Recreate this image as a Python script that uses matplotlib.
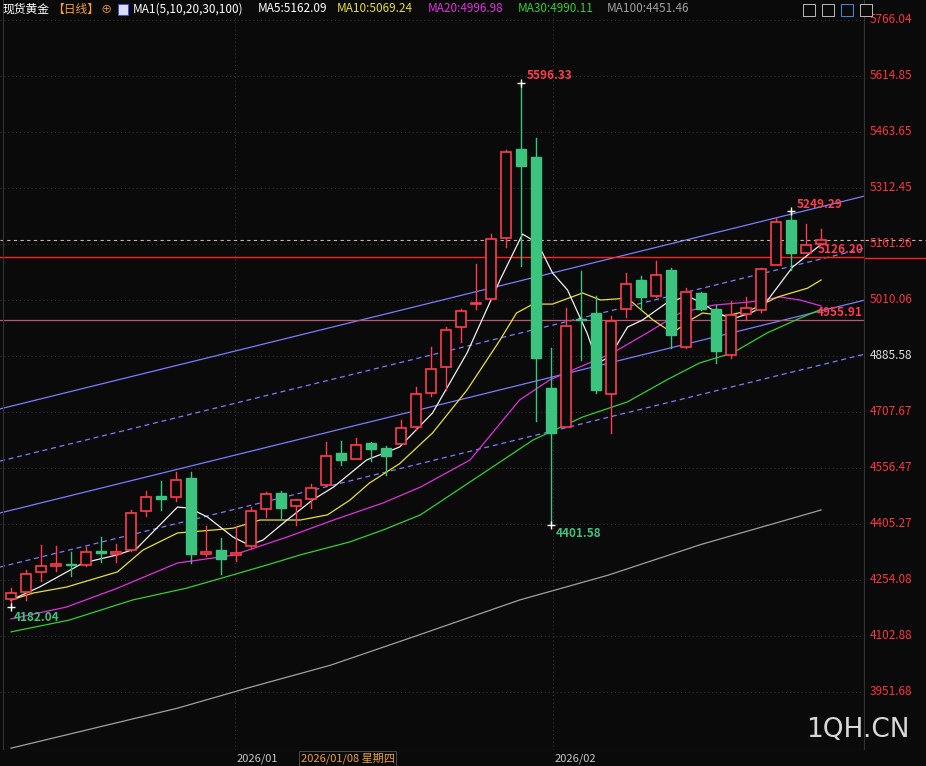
import matplotlib
matplotlib.use("Agg")
import matplotlib.pyplot as plt
from matplotlib.patches import Rectangle

plt.rcParams['font.family'] = ['Noto Sans CJK SC', 'DejaVu Sans']

# daily OHLC
opens = [4202, 4221, 4275, 4293, 4297, 4295, 4332, 4325, 4335, 4440,
         4481, 4477, 4529, 4325, 4335, 4322, 4346, 4445, 4489, 4455,
         4474, 4511, 4597, 4581, 4624, 4610, 4620, 4668, 4758, 4828,
         4936, 4999, 5012, 5177, 5418, 5396, 4772, 4668, 4959, 4976,
         4755, 4985, 5064, 5022, 5091, 4884, 5028, 4987, 4861, 4971,
         4983, 5104, 5226, 5138, 5161]
closes = [4218, 4269, 4291, 4296, 4295, 4329, 4326, 4329, 4434, 4477,
          4474, 4524, 4325, 4329, 4312, 4327, 4440, 4486, 4448, 4469,
          4502, 4589, 4579, 4618, 4608, 4590, 4664, 4756, 4824, 4929,
          4980, 5003, 5174, 5409, 5373, 4854, 4650, 4940, 4957, 4767,
          4954, 5053, 5019, 5078, 4916, 5032, 4987, 4873, 4969, 4988,
          5093, 5220, 5138, 5159, 5171]
highs = [4232, 4281, 4348, 4346, 4329, 4342, 4369, 4350, 4443, 4494,
         4521, 4546, 4546, 4400, 4368, 4396, 4452, 4492, 4495, 4473,
         4513, 4627, 4629, 4637, 4627, 4616, 4686, 4776, 4884, 4937,
         4987, 5107, 5188, 5415, 5596.33, 5447, 4881, 4988, 5088, 5021,
         4967, 5084, 5075, 5115, 5096, 5042, 5032, 4996, 5008, 5017,
         5097, 5231, 5249.29, 5215, 5202]
lows = [4182.04, 4200, 4252, 4279, 4266, 4293, 4303, 4303, 4332, 4427,
        4443, 4467, 4299, 4320, 4270, 4306, 4341, 4425, 4419, 4403,
        4448, 4509, 4565, 4581, 4576, 4537, 4620, 4659, 4751, 4767,
        4897, 4987, 5010, 5154, 5103, 4682, 4401.58, 4668, 4848, 4758,
        4652, 4963, 4983, 5017, 4880, 4880, 4983, 4839, 4853, 4956,
        4978, 5104, 5091, 5136, 5161]

# moving averages: (bar index, value)
ma5 = [(0, 4200), (1.9, 4235), (4.8, 4300), (7.1, 4322), (8.4, 4340), (11.1, 4451),
       (11.9, 4448), (13.1, 4424), (14.8, 4370), (15.9, 4348), (16.8, 4362),
       (18.4, 4416), (20.1, 4470), (21.5, 4505), (23.7, 4578), (25.9, 4613),
       (28.1, 4705), (30.4, 4867), (32.6, 5064), (34.1, 5188), (35.1, 5164),
       (36.1, 5083), (37.1, 5037), (38.4, 4921), (39.1, 4840), (39.9, 4856),
       (41.1, 4937), (42.1, 4956), (43.7, 5002), (45.1, 5021), (45.9, 5005),
       (47.1, 4975), (48.1, 4959), (49.3, 4975), (50.1, 4991), (51.1, 5045),
       (52.1, 5099), (54, 5160)]
ma10 = [(0, 4200), (1.5, 4219), (3.7, 4235), (7.1, 4276), (8.8, 4335), (11.1, 4381),
        (13.5, 4389), (14.8, 4394), (16.6, 4416), (19.3, 4416), (21.1, 4430),
        (22.6, 4470), (23.9, 4516), (25.9, 4568), (28.1, 4651), (30.4, 4767),
        (32.6, 4902), (33.7, 4975), (34.8, 4999), (36.1, 4999), (38.1, 5029),
        (39.3, 5010), (41.1, 5015), (42.8, 4956), (44.1, 4921), (45.3, 4956),
        (46.1, 4975), (47.7, 4967), (49.3, 4983), (51.1, 5018), (53.1, 5042),
        (54, 5064)]
ma20 = [(0, 4149), (3.7, 4181), (7.1, 4232), (11.1, 4300), (14.8, 4321), (18.4, 4370),
        (21.5, 4416), (24.8, 4462), (27.3, 4505), (30.6, 4578), (33.9, 4740),
        (35.9, 4794), (37.9, 4829), (40.1, 4867), (42.4, 4921), (44.6, 4975),
        (46.8, 4996), (49.3, 5005), (51.3, 5018), (52.6, 5010), (54, 4994)]
ma30 = [(0, 4114), (3.9, 4146), (8.1, 4200), (11.7, 4232), (14.8, 4268), (17.1, 4295),
        (19.3, 4322), (22.6, 4357), (24.8, 4389), (27.3, 4430), (32.8, 4578),
        (34.8, 4632), (38.1, 4694), (41.1, 4735), (43.7, 4794), (45.9, 4840),
        (48.1, 4867), (50.4, 4921), (52.6, 4961), (54, 4985)]
ma100 = [(0, 3800), (11.1, 3908), (16, 3965), (21.3, 4024), (27, 4103),
         (33.9, 4200), (39.8, 4267), (46, 4350), (54, 4443)]

# channel lines: (start index, start price, end index, end price, style)
channels = [(-0.73, 4716, 56.93, 5291, "-"), (-0.73, 4575, 56.93, 5150, "--"),
            (-0.73, 4435, 56.93, 5010, "-"), (-0.73, 4289, 56.93, 4864, "--")]

yticks = [5766.04, 5614.85, 5463.65, 5312.45, 5161.26, 5010.06, 4858.87,
          4707.67, 4556.47, 4405.27, 4254.08, 4102.88, 3951.68]
ytick_labels = ["5766.04", "5614.85", "5463.65", "5312.45", "5161.26", "5010.06",
                "4885.58", "4707.67", "4556.47", "4405.27", "4254.08", "4102.88",
                "3951.68"]
month_idx = [14.9, 36.1]
month_labels = ["2026/01", "2026/02"]
i_peak, i_trough, i_hi2 = 34, 36, 52

UP = "#ff3b4f"
DOWN = "#3cc47e"
BG = "#0a0a0a"

W, H = 926, 766
fig = plt.figure(figsize=(W / 100, H / 100), dpi=100)
fig.patch.set_facecolor(BG)
ax = fig.add_axes([0, 16 / H, 865 / W, 750 / H])
ax.set_facecolor(BG)
ax.set_xlim(-0.733, 56.93)
ax.set_ylim(5820.04 - 2.7 * 750, 5820.04)
ax.set_xticks([])
ax.set_yticks([])
for s in ax.spines.values():
    s.set_visible(False)
ax.axvline(-0.5, color="#333333", lw=0.8)
ax.axvline(56.93, color="#333333", lw=1.6)
ax.axhline(5820.04 - 2.7 * 750, color="#333333", lw=0.8)

# grid
for t in yticks:
    ax.axhline(t, color="#3a3a3a", lw=0.7, ls=(0, (1, 3)), zorder=0)
for m in month_idx:
    ax.axvline(m, color="#3a3a3a", lw=0.7, ls=(0, (1, 3)), zorder=0)

# channel lines
for x0, y0, x1, y1, ls in channels:
    ax.plot([x0, x1], [y0, y1], color="#7b7bff", lw=0.9, zorder=1,
            ls=(0, (4, 3)) if ls == "--" else "-")

# horizontal levels
ax.axhline(5126.20, color="#ff2020", lw=1.0, zorder=1)
ax.axhline(4955.91, color="#b05a70", lw=0.9, zorder=1)
ax.axhline(5172.8, color="#c9b2a6", lw=0.8, ls=(0, (3, 3)), zorder=1)

# moving averages
for pts, col in [(ma100, "#a0a0a0"), (ma30, "#30d030"), (ma20, "#e030e0"),
                 (ma10, "#e8e030"), (ma5, "#f0f0f0")]:
    ax.plot([p[0] for p in pts], [p[1] for p in pts], color=col, lw=0.9, zorder=3)

# candles
bw = 0.62
for i, (o, c, hi, lo) in enumerate(zip(opens, closes, highs, lows)):
    up = c >= o
    col = UP if up else DOWN
    bot, top = min(o, c), max(o, c)
    ax.plot([i, i], [top, hi], color=col, lw=1.0, zorder=4)
    ax.plot([i, i], [lo, bot], color=col, lw=1.0, zorder=4)
    hgt = max(top - bot, 3)
    if up:
        ax.add_patch(Rectangle((i - bw / 2, bot), bw, hgt, facecolor=BG,
                               edgecolor=col, lw=1.2, zorder=5))
    else:
        ax.add_patch(Rectangle((i - bw / 2, bot), bw, hgt, facecolor=col,
                               edgecolor=col, lw=1.0, zorder=5))

# extreme markers
for i, v in [(i_peak, highs[i_peak]), (i_hi2, highs[i_hi2]),
             (i_trough, lows[i_trough]), (0, lows[0])]:
    ax.plot(i, v, marker="+", color="white", ms=6, mew=1, zorder=6)
lab = dict(fontsize=8.5, fontweight="bold", zorder=7)
ax.text(i_peak + 0.4, highs[i_peak] + 2, f"{highs[i_peak]:.2f}", color=UP, va="bottom", **lab)
ax.text(i_hi2 + 0.4, highs[i_hi2] + 2, f"{highs[i_hi2]:.2f}", color=UP, va="bottom", **lab)
ax.text(i_trough + 0.3, lows[i_trough] - 5, f"{lows[i_trough]:.2f}", color=DOWN, va="top", **lab)
ax.text(0.2, lows[0] - 12, f"{lows[0]:.2f}", color=DOWN, va="top", **lab)
ax.text(56.8, 5126.20 + 3, "5126.20", color=UP, ha="right", va="bottom", **lab)
ax.text(56.8, 4955.91 + 3, "4955.91", color=UP, ha="right", va="bottom", **lab)

# right price axis
tr = ax.get_yaxis_transform()
for t, tl in zip(yticks, ytick_labels):
    ax.text(1.005, t, tl, transform=tr, color="#dddddd" if tl == "4885.58" else "#ff3040",
            fontsize=8.5, va="center", ha="left", clip_on=False)
fig.lines.append(plt.Line2D([865 / W, 1], [(766 - 239.7) / H] * 2, transform=fig.transFigure,
                            color="#c9b2a6", lw=0.8, ls=(0, (3, 3))))
fig.lines.append(plt.Line2D([865 / W, 1], [(766 - 258.3) / H] * 2, transform=fig.transFigure,
                            color="#ff2020", lw=1.0))

# date axis
dy = 7.5 / H
for m, tl in zip(month_idx, month_labels):
    x = ax.transData.transform((m, 0))[0] / W
    fig.text(x + 2 / W, dy, tl, color="#c8c8c8", fontsize=8, va="center", ha="left")
x = ax.transData.transform((19.3, 0))[0] / W
fig.text(x, dy, "2026/01/08 星期四", color="#f0a030", fontsize=8, va="center", ha="left",
         bbox=dict(boxstyle="square,pad=0.15", fc=BG, ec="#555555", lw=0.6))

# header
hy = 1 - 9 / H
fig.text(3 / W, hy, "现货黄金", color="white", fontsize=8.5, va="center")
fig.text(52 / W, hy, "【日线】", color="#f0a030", fontsize=8.5, va="center")
fig.text(101 / W, hy, "⊕", color="#f0a030", fontsize=8, va="center")
fig.patches.append(Rectangle((118 / W, (766 - 15) / H), 10 / W, 11 / H,
                             transform=fig.transFigure, fc="#ddddff", ec="#3050ff", lw=0.6))
header = [("MA1(5,10,20,30,100)", "white", 133), ("MA5:5162.09", "white", 258),
          ("MA10:5069.24", "#e8e030", 337), ("MA20:4996.98", "#e030e0", 428),
          ("MA30:4990.11", "#30d030", 518), ("MA100:4451.46", "#a0a0a0", 607)]
for txt, col, x in header:
    fig.text(x / W, hy, txt, color=col, fontsize=8.5, va="center")
for k, x in enumerate([803, 822, 841, 860]):
    fig.patches.append(Rectangle((x / W, (766 - 16) / H), 12 / W, 12 / H,
                                 transform=fig.transFigure, fc=BG,
                                 ec="#3a8ee0" if k == 2 else "#bbbbbb", lw=0.7))

fig.text(1 - 16 / W, 36 / H, "1QH.CN", color="#d8d8d8", fontsize=19, ha="right",
         va="center", family="DejaVu Sans")

fig.savefig("out.png", dpi=100, facecolor=BG)
